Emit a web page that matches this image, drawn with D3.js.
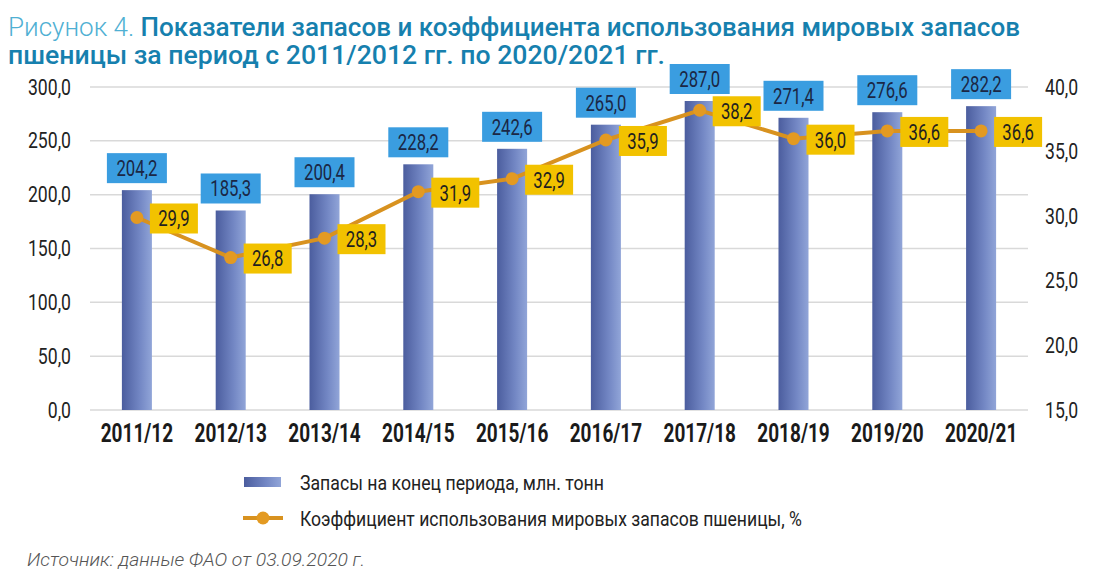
<!DOCTYPE html>
<html><head><meta charset="utf-8">
<script src="https://cdn.jsdelivr.net/npm/d3@7"></script>
<style>
html,body{margin:0;padding:0;background:#fff;}
svg{display:block;}
text{font-family:Roboto,"Liberation Sans",sans-serif;}
</style></head>
<body><svg id="c" width="1100" height="578"></svg>
<script>
const categories = ["2011/12","2012/13","2013/14","2014/15","2015/16","2016/17","2017/18","2018/19","2019/20","2020/21"];
const stocks = [204.2,185.3,200.4,228.2,242.6,265.0,287.0,271.4,276.6,282.2];
const ratio = [29.9,26.8,28.3,31.9,32.9,35.9,38.2,36.0,36.6,36.6];
const leftTicks = [0,50,100,150,200,250,300];
const rightTicks = [15,20,25,30,35,40];
const titleLine1a = "Рисунок 4. ";
const titleLine1b = "Показатели запасов и коэффициента использования мировых запасов";
const titleLine2 = "пшеницы за период с 2011/2012 гг. по 2020/2021 гг.";
const legendLabels = ["Запасы на конец периода, млн. тонн","Коэффициент использования мировых запасов пшеницы, %"];
const sourceText = "Источник: данные ФАО от 03.09.2020 г.";

const fmt = v => d3.format(".1f")(v).replace(".", ",");
function condense(sel, f){
  sel.each(function(){
    const l = this.getComputedTextLength();
    d3.select(this).attr("textLength", l*f).attr("lengthAdjust","spacingAndGlyphs");
  });
}
function fitTo(sel, w){ sel.attr("textLength", w).attr("lengthAdjust","spacingAndGlyphs"); }

const svg = d3.select("#c");
const defs = svg.append("defs");
const g1 = defs.append("linearGradient").attr("id","barGrad").attr("x1","0").attr("x2","1").attr("y1","0").attr("y2","0");
g1.append("stop").attr("offset","0").attr("stop-color","#4b5d9e");
g1.append("stop").attr("offset","0.6").attr("stop-color","#7387c4");
g1.append("stop").attr("offset","1").attr("stop-color","#91a5d8");

const x = d3.scaleBand().domain(categories).range([90,1028]).paddingInner(0.68).paddingOuter(0.34);
const yL = d3.scaleLinear().domain([0,300]).range([410,87]);
const yR = d3.scaleLinear().domain([15,40]).range([410,87]);

// title
const t1 = svg.append("text").attr("x",8).attr("y",36).attr("font-size",26);
t1.append("tspan").attr("fill","#4fb0d3").attr("font-weight","300").text(titleLine1a);
t1.append("tspan").attr("fill","#1680ae").attr("font-weight","500").text(titleLine1b);
fitTo(t1, 1012);
const t2 = svg.append("text").attr("x",8).attr("y",64).attr("font-size",26).attr("fill","#1680ae").attr("font-weight","500").text(titleLine2);
fitTo(t2, 657);

// grid
svg.append("g").selectAll("line").data(leftTicks).join("line")
  .attr("x1",90).attr("x2",1028).attr("y1",d=>yL(d)).attr("y2",d=>yL(d))
  .attr("stroke","#d9d9d9").attr("stroke-width",1.5);

// left axis
const axL = svg.append("g").attr("transform","translate(71,0)")
  .call(d3.axisLeft(yL).tickValues(leftTicks).tickFormat(fmt).tickSize(0).tickPadding(0));
axL.select(".domain").remove();
axL.selectAll("text").attr("font-size",22).attr("fill","#222").attr("font-family",null);
condense(axL.selectAll("text"), 0.8);

// right axis
const axR = svg.append("g").attr("transform","translate(1045,0)")
  .call(d3.axisRight(yR).tickValues(rightTicks).tickFormat(fmt).tickSize(0).tickPadding(0));
axR.select(".domain").remove();
axR.selectAll("text").attr("font-size",22).attr("fill","#222").attr("font-family",null);
condense(axR.selectAll("text"), 0.8);

// x axis
const axX = svg.append("g").attr("transform","translate(0,418)")
  .call(d3.axisBottom(x).tickSize(0).tickPadding(6));
axX.select(".domain").remove();
axX.selectAll("text").attr("font-size",25).attr("font-weight","bold").attr("fill","#1a1a1a").attr("font-family",null);
condense(axX.selectAll("text"), 0.76);

// bars
svg.append("g").selectAll("rect").data(stocks).join("rect")
  .attr("x",(d,i)=>x(categories[i])).attr("width",x.bandwidth())
  .attr("y",d=>yL(d)).attr("height",d=>yL(0)-yL(d))
  .attr("fill","url(#barGrad)");

// bar labels
const bl = svg.append("g").selectAll("g").data(stocks).join("g")
  .attr("transform",(d,i)=>`translate(${x(categories[i])+x.bandwidth()/2},${yL(d)-7})`);
bl.append("rect").attr("x",-30).attr("y",-30).attr("width",60).attr("height",30).attr("fill","#3a9de0");
const blt = bl.append("text").attr("y",-15).attr("dy","0.36em").attr("text-anchor","middle")
  .attr("font-size",22).attr("fill","#1b2745").text(d=>fmt(d));
condense(blt, 0.76);

// line
const cx = i => x(categories[i])+x.bandwidth()/2;
const line = d3.line().x((d,i)=>cx(i)).y(d=>yR(d));
svg.append("path").datum(ratio).attr("d",line).attr("fill","none").attr("stroke","#d8921f").attr("stroke-width",4);
svg.append("g").selectAll("circle").data(ratio).join("circle")
  .attr("cx",(d,i)=>cx(i)).attr("cy",d=>yR(d)).attr("r",6.5).attr("fill","#e39a22");

// line labels
const ll = svg.append("g").selectAll("g").data(ratio).join("g")
  .attr("transform",(d,i)=>`translate(${cx(i)+13},${yR(d)+1})`);
ll.append("rect").attr("x",0).attr("y",-15).attr("width",48).attr("height",30).attr("fill","#f2c200");
const llt = ll.append("text").attr("x",24).attr("dy","0.36em").attr("text-anchor","middle")
  .attr("font-size",22).attr("fill","#1f1f1f").text(d=>fmt(d));
condense(llt, 0.76);

// legend
const lg = svg.append("g");
lg.append("rect").attr("x",244).attr("y",477).attr("width",37).attr("height",10).attr("fill","url(#barGrad)");
const lt1 = lg.append("text").attr("x",300).attr("y",482).attr("dy","0.36em").attr("font-size",21).attr("fill","#222").text(legendLabels[0]);
fitTo(lt1, 304);
lg.append("line").attr("x1",243).attr("x2",283).attr("y1",518).attr("y2",518).attr("stroke","#d8921f").attr("stroke-width",4);
lg.append("circle").attr("cx",263).attr("cy",518).attr("r",6.5).attr("fill","#e39a22");
const lt2 = lg.append("text").attr("x",300).attr("y",518).attr("dy","0.36em").attr("font-size",21).attr("fill","#222").text(legendLabels[1]);
fitTo(lt2, 502);

// source
const st = svg.append("text").attr("x",27).attr("y",566).attr("font-size",18).attr("font-style","italic").attr("fill","#555")
  .attr("font-weight","300").text(sourceText);
fitTo(st, 338);
</script></body></html>
